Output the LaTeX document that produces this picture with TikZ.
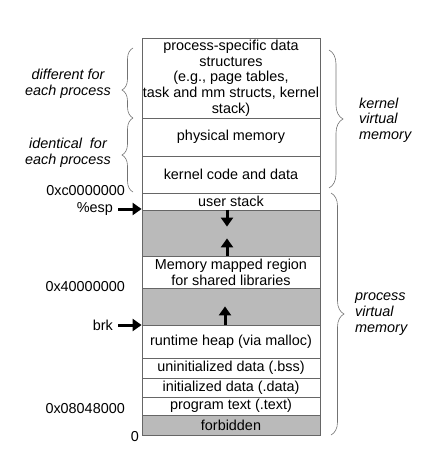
\documentclass[tikz,border=0pt]{standalone}
\usepackage{fontspec}
\setmainfont{Liberation Sans}
\usetikzlibrary{arrows.meta,decorations.pathreplacing}

\tikzset{
  region/.style={draw=black!60, line width=.8pt, minimum width=178pt, inner sep=0pt, align=center},
  hole/.style={region, fill=black!27},
  brc/.style={draw=black!55, line width=.6pt, decorate, decoration={brace, amplitude=#1}},
  brc/.default=11pt,
  ptr/.style={-{Triangle[length=9pt,width=12pt]}, line width=3pt},
}

\begin{document}
\begin{tikzpicture}[x=1pt,y=-1pt, font=\fontsize{14.4}{15.7}\selectfont]
  \useasboundingbox (0,0) rectangle (442,450);

  % memory regions, top to bottom
  \node[region, minimum height=80pt] (pds)    at (231,78)    {process-specific data\\structures\\(e.g., page tables,\\task and mm structs, kernel\\stack)};
  \node[region, minimum height=38pt] (phys)   at (231,137)   {physical memory};
  \node[region, minimum height=37pt] (kcode)  at (231,174.5) {kernel code and data};
  \node[region, minimum height=17pt] (ustack) at (231,201.5) {user stack};
  \node[hole,   minimum height=46pt] (gap1)   at (231,233)   {};
  \node[region, minimum height=32pt] (mmap)   at (231,272)   {Memory mapped region\\for shared libraries};
  \node[hole,   minimum height=37pt] (gap2)   at (231,306.5) {};
  \node[region, minimum height=33pt] (heap)   at (231,341.5) {runtime heap (via malloc)};
  \node[region, minimum height=20pt] (bss)    at (231,368)   {uninitialized data (.bss)};
  \node[region, minimum height=19pt] (data)   at (231,387.5) {initialized data (.data)};
  \node[region, minimum height=18pt] (text)   at (231,406)   {program text (.text)};
  \node[hole,   minimum height=20pt] (forbid) at (231,425)   {forbidden};

  % growth arrows
  \draw[ptr] ([xshift=-4pt]gap1.north) -- ++(0,17);
  \draw[ptr] ([xshift=-4pt]gap1.south) -- ++(0,-18);
  \draw[ptr] ([xshift=-6pt]gap2.south) -- ++(0,-19);

  % addresses and pointers
  \begin{scope}[every node/.style={anchor=east, inner sep=0pt}]
    \node (kbase) at (125,191) {0xc0000000};
    \node (esp)   at (113,209) {\%esp};
    \node (mbase) at (125,287) {0x40000000};
    \node (brk)   at (113,325) {brk};
    \node (tbase) at (125,409) {0x08048000};
    \node (zero)  at (139,437) {0};
  \end{scope}
  \draw[ptr] ([xshift=5pt]esp.east) -- (esp -| ustack.west);
  \draw[ptr] ([xshift=5pt]brk.east) -- (brk -| heap.west);

  % braces and their labels
  \draw[brc, decoration={aspect=0.4}] (133,118) -- (133,48);
  \draw[brc] (133,192) -- (133,118);
  \draw[brc=14pt] (329,50) -- (329,188);
  \draw[brc=13pt] (331,193) -- (331,435);

  \begin{scope}[every node/.style={font=\fontsize{14.4}{15.7}\selectfont\itshape, inner sep=0pt}]
    \node[align=center] (diff)  at (68,84)  {different for\\each process};
    \node[align=center] (ident) at (68,153) {identical\ \ for\\each process};
    \node[align=left, anchor=west] (kvm) at (359,120) {kernel\\virtual\\memory};
    \node[align=left, anchor=west] (pvm) at (355,314) {process\\virtual\\memory};
  \end{scope}

\end{tikzpicture}
\end{document}
